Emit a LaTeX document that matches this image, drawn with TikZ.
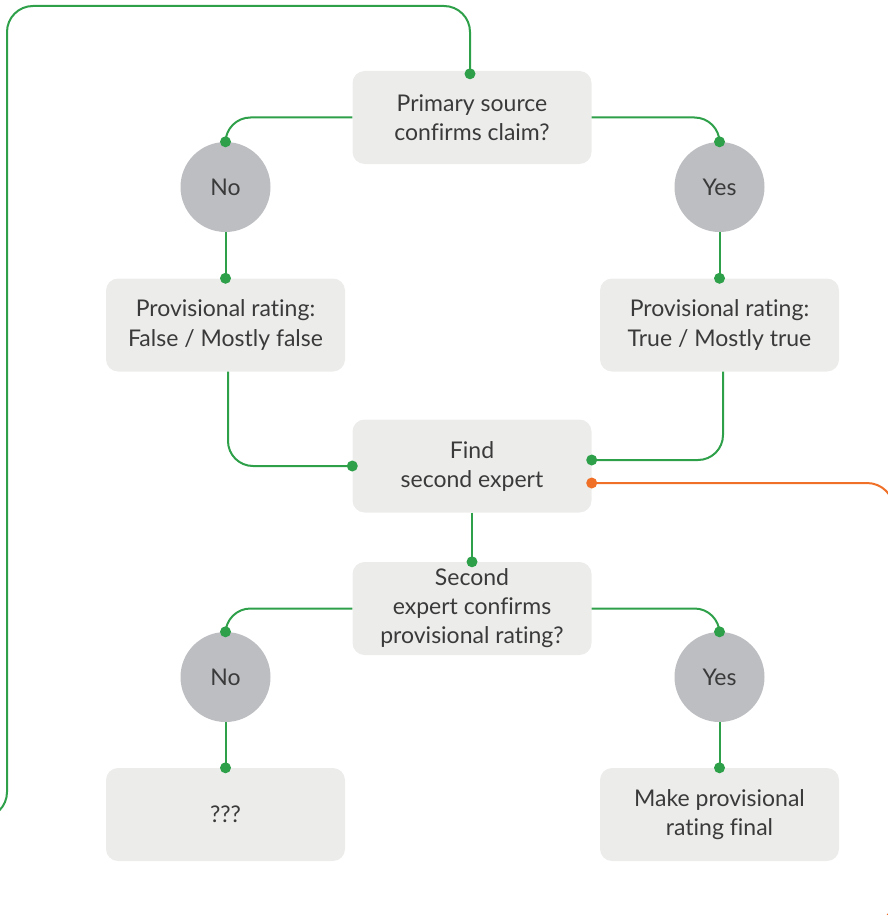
\documentclass[tikz,border=0pt]{standalone}
\usepackage{fontspec}
\setmainfont[Ligatures=NoCommon]{Lato}
\usepackage{tikz}

\definecolor{boxgray}{RGB}{236,237,235}
\definecolor{circgray}{RGB}{189,190,194}
\definecolor{linegreen}{RGB}{46,160,74}
\definecolor{lineorange}{RGB}{240,112,40}
\definecolor{textgray}{RGB}{58,58,58}

\tikzset{
    box/.style={rectangle, rounded corners=12pt, fill=boxgray, minimum width=239pt, minimum height=93pt, align=center, text=textgray, font=\fontsize{23}{29}\selectfont},
    answer/.style={circle, fill=circgray, minimum size=90pt, inner sep=0pt, text=textgray, font=\fontsize{23}{26}\selectfont},
    flow/.style={draw=linegreen, line width=2pt, rounded corners=25pt},
    back/.style={draw=lineorange, line width=2pt, rounded corners=27pt}
}

\begin{document}
\begin{tikzpicture}[x=1pt,y=-1pt]

    \useasboundingbox (0,0) rectangle (888,915);
    \clip (0,0) rectangle (888,915);

    \node[box] (primary) at (472,117.5) {Primary source\\confirms claim?};
    \node[answer] (no1) at (225.5,187) {No};
    \node[answer] (yes1) at (719.5,187) {Yes};
    \node[box] (provF) at (225.5,325) {Provisional rating:\\False / Mostly false};
    \node[box] (provT) at (719.5,325) {Provisional rating:\\True / Mostly true};
    \node[box] (find) at (472,466) {Find\\second expert};
    \node[box] (second) at (472,608.5) {Second\\expert confirms\\provisional rating?};
    \node[answer] (no2) at (225.5,677) {No};
    \node[answer] (yes2) at (719.5,677) {Yes};
    \node[box] (unknown) at (225.5,814.5) {???};
    \node[box] (final) at (719.5,814.5) {Make provisional\\rating final};

    \coordinate (loopend) at (-40,818);
    \coordinate (backend) at (600,925);

    \draw[flow] (primary.west) -| (no1.north);
    \draw[flow] (primary.east) -| (yes1.north);
    \draw[flow] (no1) -- (provF);
    \draw[flow] (yes1) -- (provT);
    \draw[flow] ([xshift=2.5pt]provF.south) |- (find.west);
    \draw[flow] ([xshift=3.5pt]provT.south) |- ([yshift=6pt]find.east);
    \draw[flow] (find) -- (second);
    \draw[flow] (second.west) -| (no2.north);
    \draw[flow] (second.east) -| (yes2.north);
    \draw[flow] (no2) -- (unknown);
    \draw[flow] (yes2) -- (final);

    \draw[flow, rounded corners=26pt] ([xshift=-2pt]primary.north) |- (7,6) -- (7,818) -- (loopend);
    \draw[back] ([yshift=-17pt]find.east) -- (894,483) -- (894,925) -- (backend);

    \foreach \a in {no1.north, yes1.north, provF.north, provT.north, find.west, second.north, no2.north, yes2.north, unknown.north, final.north}{
        \fill[linegreen] (\a) circle (5.5);
    }
    \fill[linegreen] ([xshift=-2pt,yshift=-3pt]primary.north) circle (5.5);
    \fill[linegreen] ([yshift=6pt]find.east) circle (5.5);
    \fill[lineorange] ([yshift=-17pt]find.east) circle (5.5);

\end{tikzpicture}
\end{document}
